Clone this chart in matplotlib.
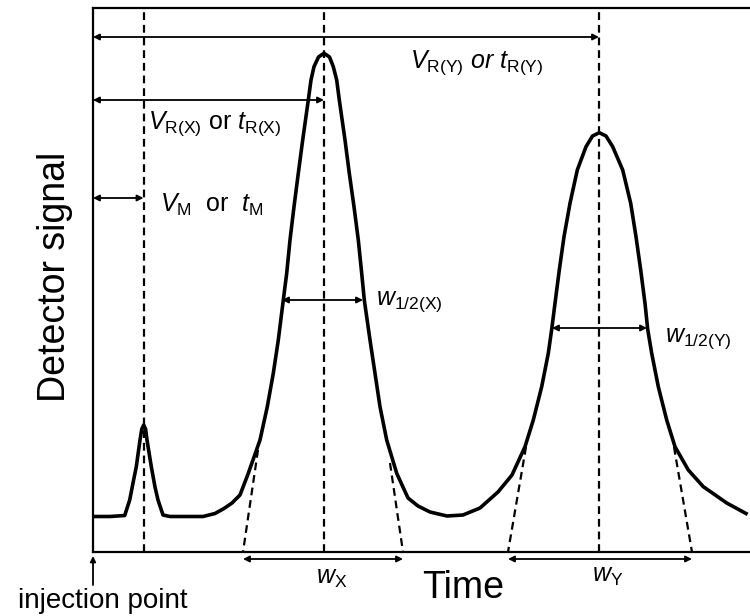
import matplotlib
matplotlib.use("Agg")
import matplotlib.pyplot as plt

plt.rcParams['font.family'] = ['Liberation Sans', 'DejaVu Sans']
plt.rcParams['mathtext.fontset'] = 'custom'
plt.rcParams['mathtext.rm'] = 'Liberation Sans'
plt.rcParams['mathtext.it'] = 'Liberation Sans:italic'

# chromatogram trace (time, detector signal), arbitrary units
time = [0.00, 0.34, 0.634, 0.734, 0.80, 0.866, 0.94, 0.976, 1.014, 1.052, 1.08, 1.166, 1.24,
        1.30, 1.40, 1.54,
        2.20, 2.44, 2.62, 2.78, 2.94, 3.106, 3.34, 3.486, 3.606, 3.706, 3.806, 3.874, 3.94, 4.02,
        4.106, 4.194, 4.306, 4.36, 4.42, 4.51, 4.62, 4.73, 4.806, 4.874, 4.926, 5.04, 5.126,
        5.22, 5.306, 5.374, 5.426, 5.54, 5.64, 5.74, 5.874, 6.074, 6.30, 6.50,
        6.74, 7.08, 7.40, 7.74,
        8.10, 8.38, 8.64, 8.806, 8.974, 9.106, 9.174, 9.24, 9.326, 9.42, 9.54, 9.686, 9.86,
        9.99, 10.126, 10.26, 10.394, 10.594, 10.754, 10.86, 10.954, 11.04, 11.094, 11.174,
        11.306, 11.474, 11.64, 11.906, 12.206, 12.674, 13.06]
signal = [0.71, 0.71, 0.73, 1.04, 1.38, 1.706, 2.24, 2.46, 2.54, 2.46, 2.24, 1.706, 1.30,
          1.04, 0.74, 0.71,
          0.71, 0.77, 0.87, 0.98, 1.14, 1.574, 2.24, 2.906, 3.574, 4.24, 5.04, 5.574, 6.24, 6.906,
          7.574, 8.24, 9.04, 9.44, 9.706, 9.90, 9.974, 9.90, 9.706, 9.44, 9.04, 8.24, 7.574,
          6.906, 6.24, 5.574, 5.04, 4.24, 3.574, 2.906, 2.24, 1.574, 1.08, 0.92,
          0.80, 0.72, 0.74, 0.88,
          1.20, 1.54, 2.106, 2.64, 3.306, 3.974, 4.454, 4.974, 5.64, 6.306, 6.974, 7.64, 8.106,
          8.32, 8.386, 8.32, 8.106, 7.64, 6.974, 6.306, 5.64, 4.974, 4.454, 3.974,
          3.306, 2.64, 2.106, 1.64, 1.306, 0.98, 0.77]

# retention times: unretained (M), X, Y
retention = [1.01, 4.62, 10.12]
# half-height widths (start, end, level)
half_x = [3.78, 5.40, 5.04]
half_y = [9.18, 11.08, 4.48]
# baseline widths from tangents (inflection t, inflection s, baseline t)
tangents = [(3.30, 2.04, 3.00), (5.94, 1.78, 6.20), (8.66, 2.10, 8.30), (11.62, 2.10, 11.98)]
base_x = [3.00, 6.20]
base_y = [8.30, 11.98]

fig = plt.figure(figsize=(7.5, 6.16), dpi=100)
ax = fig.add_axes([93 / 750, 1 - 552 / 616, 1 - 93 / 750, 544 / 616])
ax.set_xlim(0, 13.14)
ax.set_ylim(0, 10.88)
ax.set_xticks([])
ax.set_yticks([])
ax.spines['right'].set_visible(False)
for s in ['left', 'top', 'bottom']:
    ax.spines[s].set_linewidth(1.6)

dash = (0, (3.5, 2.2))
for t in retention:
    ax.plot([t, t], [0, 10.88], color='black', lw=1.6, ls=dash)
for ti, si, tb in tangents:
    ax.plot([ti, tb], [si, 0], color='black', lw=1.6, ls=dash)

ax.plot(time, signal, color='black', lw=2.6, solid_joinstyle='round')

arrow = dict(arrowstyle='<|-|>', lw=1.3, color='black', mutation_scale=9, shrinkA=0, shrinkB=0)


def span(t0, t1, y):
    ax.annotate('', xy=(t1, y), xytext=(t0, y), arrowprops=arrow, annotation_clip=False)


span(0, retention[2], 10.30)
span(0, retention[1], 9.04)
span(0, retention[0], 7.08)
span(half_x[0], half_x[1], half_x[2])
span(half_y[0], half_y[1], half_y[2])
span(base_x[0], base_x[1], -0.14)
span(base_y[0], base_y[1], -0.14)

fs = 18
ax.text(6.34, 9.78, r'$V_{\mathrm{R(Y)}}\ or\ t_{\mathrm{R(Y)}}$', fontsize=fs, va='center')
ax.text(1.10, 8.56, r'$V_{\mathrm{R(X)}}$ or $t_{\mathrm{R(X)}}$', fontsize=fs, va='center')
ax.text(1.34, 6.94, r'$V_{\mathrm{M}}$  or  $t_{\mathrm{M}}$', fontsize=fs, va='center')
ax.text(5.66, 5.00, r'$w_{\mathrm{1/2(X)}}$', fontsize=fs, va='center')
ax.text(11.44, 4.26, r'$w_{\mathrm{1/2(Y)}}$', fontsize=fs, va='center')
ax.text(4.78, -0.52, r'$w_{\mathrm{X}}$', fontsize=fs, ha='center', va='center', clip_on=False)
ax.text(10.30, -0.48, r'$w_{\mathrm{Y}}$', fontsize=fs, ha='center', va='center', clip_on=False)
ax.text(7.40, -0.72, 'Time', fontsize=27, ha='center', va='center', clip_on=False)

ax.annotate('', xy=(0, -0.08), xytext=(0, -0.66), annotation_clip=False,
            arrowprops=dict(arrowstyle='-|>', lw=1.3, color='black', mutation_scale=8,
                            shrinkA=0, shrinkB=0))
fig.text(18 / 750, 1 - 601 / 616, 'injection point', fontsize=20, va='center')
fig.text(55 / 750, 1 - 277 / 616, 'Detector signal', fontsize=27, rotation=90,
         ha='center', va='center')

fig.savefig('out.png', dpi=100)
